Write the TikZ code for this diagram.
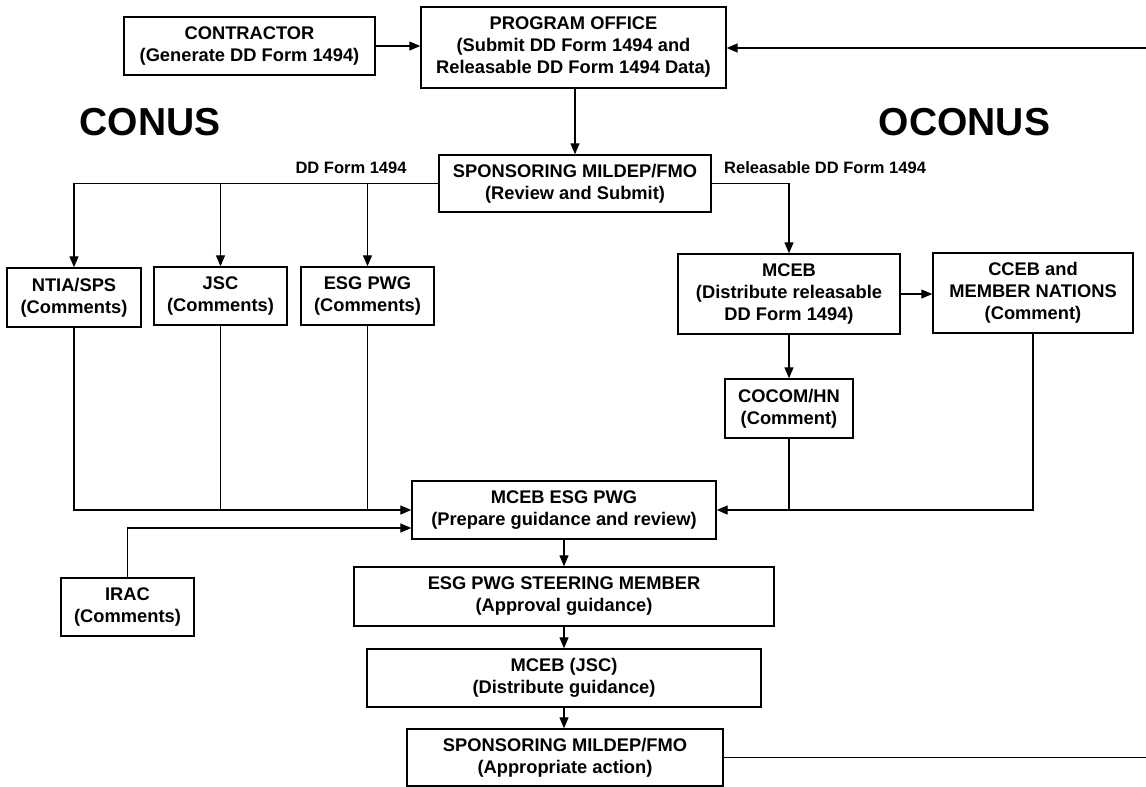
\documentclass[tikz,border=0pt]{standalone}
\usepackage{fontspec}
\setmainfont{Liberation Sans}
\usetikzlibrary{arrows.meta,positioning,calc}

\tikzset{
  box/.style={draw, line width=1.4pt, align=center, inner sep=0pt,
    font=\fontsize{18.3}{22}\selectfont\bfseries},
  arr/.style={line width=1.3pt, -{Triangle[length=11pt,width=9pt]}},
  link/.style={line width=1.3pt},
  lbl/.style={inner sep=0pt, font=\fontsize{16.5}{18}\selectfont\bfseries},
  region/.style={inner sep=0pt, font=\fontsize{39}{42}\selectfont\bfseries}
}

\begin{document}
\begin{tikzpicture}[x=1pt,y=-1pt]
  \useasboundingbox (0,0) rectangle (1146,787);
  % top row
  \node[box, minimum width=251pt, minimum height=58pt] (contractor) at (249.5,46) {CONTRACTOR\\(Generate DD Form 1494)};
  \node[box, minimum width=305pt, minimum height=81pt] (office) at (573.5,47.5) {PROGRAM OFFICE\\(Submit DD Form 1494 and\\Releasable DD Form 1494 Data)};
  \node[box, minimum width=272pt, minimum height=57pt] (sponsor) at (575,183.5) {SPONSORING MILDEP/FMO\\(Review and Submit)};
  \node[region] (conus) at (150,122) {CONUS};
  \node[region] (oconus) at (964.5,122) {OCONUS};
  \node[lbl] (ddlbl) at (351,168) {DD Form 1494};
  \node[lbl, anchor=west] (rellbl) at (724,168) {Releasable DD Form 1494};
  % CONUS comments
  \node[box, minimum width=134pt, minimum height=59pt] (ntia) at (74,297.5) {NTIA/SPS\\(Comments)};
  \node[box, minimum width=133pt, minimum height=58pt] (jsc) at (220.5,296) {JSC\\(Comments)};
  \node[box, minimum width=133pt, minimum height=58pt] (esg) at (367.5,296) {ESG PWG\\(Comments)};
  % OCONUS side
  \node[box, minimum width=222pt, minimum height=80pt] (mceb) at (789,294) {MCEB\\(Distribute releasable\\DD Form 1494)};
  \node[box, minimum width=200pt, minimum height=80pt] (cceb) at (1033,293) {CCEB and\\MEMBER NATIONS\\(Comment)};
  \node[box, minimum width=128pt, minimum height=59pt] (cocom) at (789,408.5) {COCOM/HN\\(Comment)};
  % guidance chain
  \node[box, minimum width=304pt, minimum height=58pt] (prep) at (564,510) {MCEB ESG PWG\\(Prepare guidance and review)};
  \node[box, minimum width=133pt, minimum height=58pt] (irac) at (127.5,607) {IRAC\\(Comments)};
  \node[box, minimum width=420pt, minimum height=59pt] (steer) at (564,596.5) {ESG PWG STEERING MEMBER\\(Approval guidance)};
  \node[box, minimum width=394pt, minimum height=58pt] (distrib) at (564,678) {MCEB (JSC)\\(Distribute guidance)};
  \node[box, minimum width=316pt, minimum height=57pt] (action) at (565,757.5) {SPONSORING MILDEP/FMO\\(Appropriate action)};
  \coordinate (backin) at (1146,48);
  \coordinate (backout) at (1146,758);

  \draw[arr] (contractor.east) -- (contractor.east -| office.west);
  \draw[arr] (backin) -- (backin -| office.east);
  \draw[arr] (sponsor.north |- office.south) -- (sponsor.north);
  \draw[arr] (sponsor.west) -| (ntia.north);
  \draw[arr] (jsc.north |- sponsor.west) -- (jsc.north);
  \draw[arr] (esg.north |- sponsor.west) -- (esg.north);
  \draw[arr] (sponsor.east) -| (mceb.north);
  \draw[arr] (mceb.east) -- (mceb.east -| cceb.west);
  \draw[arr] (mceb.south) -- (cocom.north);
  \draw[arr] (ntia.south) |- (prep.west);
  \draw[link] (jsc.south) -- (jsc.south |- prep.west);
  \draw[link] (esg.south) -- (esg.south |- prep.west);
  \draw[arr] (irac.north) |- ([yshift=-18pt]prep.west);
  \draw[arr] (cceb.south) |- (prep.east);
  \draw[link] (cocom.south) -- (cocom.south |- prep.east);
  \draw[arr] (prep.south) -- (steer.north);
  \draw[arr] (steer.south) -- (distrib.north);
  \draw[arr] (distrib.south) -- (distrib.south |- action.north);
  \draw[link] (action.east) -- (action.east -| backout);
\end{tikzpicture}
\end{document}
